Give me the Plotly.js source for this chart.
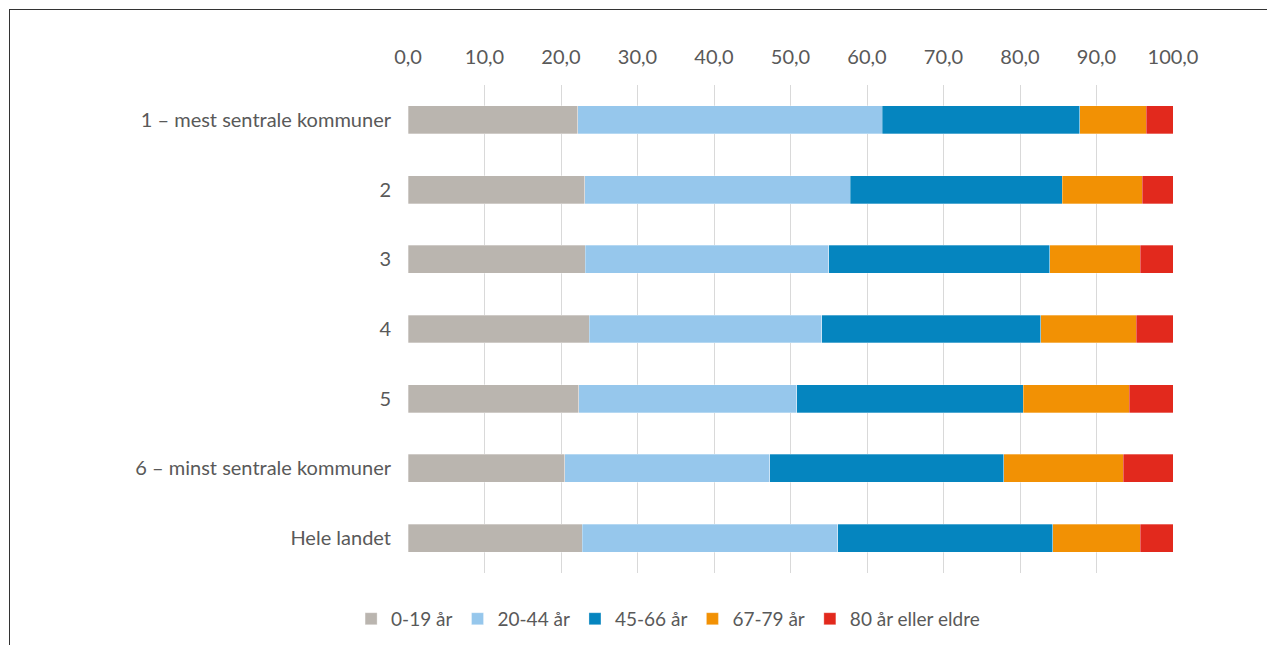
<!DOCTYPE html>
<html>
<head>
<meta charset="utf-8">
<script src="https://cdn.plot.ly/plotly-3.0.1.min.js"></script>
<style>
html,body{margin:0;padding:0;background:#fff;}
#frame{position:absolute;left:9px;top:9px;width:1300px;height:700px;border-left:1px solid #333;border-top:1px solid #333;pointer-events:none;z-index:5;}
#chart{position:absolute;left:0;top:0;width:1267px;height:645px;}
</style>
</head>
<body>
<div id="chart"></div>
<div id="frame"></div>
<script>
const categories = ["1 – mest sentrale kommuner", "2", "3", "4", "5", "6 – minst sentrale kommuner", "Hele landet"];
const seriesNames = ["0-19 år", "20-44 år", "45-66 år", "67-79 år", "80 år eller eldre"];
const age0_19  = [22.2, 23.1, 23.2, 23.7, 22.3, 20.5, 22.8];
const age20_44 = [39.8, 34.7, 31.8, 30.4, 28.5, 26.8, 33.4];
const age45_66 = [25.8, 27.7, 28.9, 28.6, 29.6, 30.6, 28.1];
const age67_79 = [8.7, 10.5, 11.8, 12.5, 13.9, 15.6, 11.4];
const age80    = [3.5, 4.0, 4.3, 4.8, 5.7, 6.5, 4.3];
const seriesValues = [age0_19, age20_44, age45_66, age67_79, age80];
const colors = ["#BAB5AF", "#96C7EC", "#0585BF", "#F29104", "#E2291D"];

const traces = seriesNames.map((name, i) => ({
  type: "bar",
  orientation: "h",
  name: name,
  y: categories,
  x: seriesValues[i],
  marker: {color: colors[i], line: {color: "rgba(255,255,255,0.6)", width: 0.5}},
  hoverinfo: "x+name"
}));

const layout = {
  width: 1267, height: 645,
  margin: {l: 408, r: 94, t: 85, b: 72, autoexpand: false},
  barmode: "stack",
  bargap: 0.6,
  paper_bgcolor: "#fff",
  plot_bgcolor: "#fff",
  separators: ", ",
  font: {family: "Lato, 'Open Sans', sans-serif", size: 20, color: "#595959"},
  xaxis: {
    side: "top",
    range: [0, 100],
    dtick: 10,
    tickformat: ".1f",
    showgrid: true,
    gridcolor: "#D9D9D9",
    gridwidth: 1,
    zeroline: false,
    showline: false,
    ticks: "",
    ticklabelstandoff: 16,
    tickfont: {size: 20, color: "#595959"},
    fixedrange: true
  },
  yaxis: {
    type: "category",
    categoryorder: "array",
    categoryarray: categories,
    range: [6.5, -0.5],
    autorange: false,
    showgrid: false,
    zeroline: false,
    showline: false,
    ticks: "",
    ticklabelstandoff: 16,
    tickfont: {size: 20, color: "#595959"},
    fixedrange: true
  },
  legend: {
    orientation: "h",
    x: 0.34, xanchor: "center",
    y: -0.094, yanchor: "middle",
    traceorder: "normal",
    font: {size: 19, color: "#595959"},
    itemwidth: 30
  },
  showlegend: true
};

Plotly.newPlot("chart", traces, layout, {displayModeBar: false, staticPlot: true});
</script>
</body>
</html>
